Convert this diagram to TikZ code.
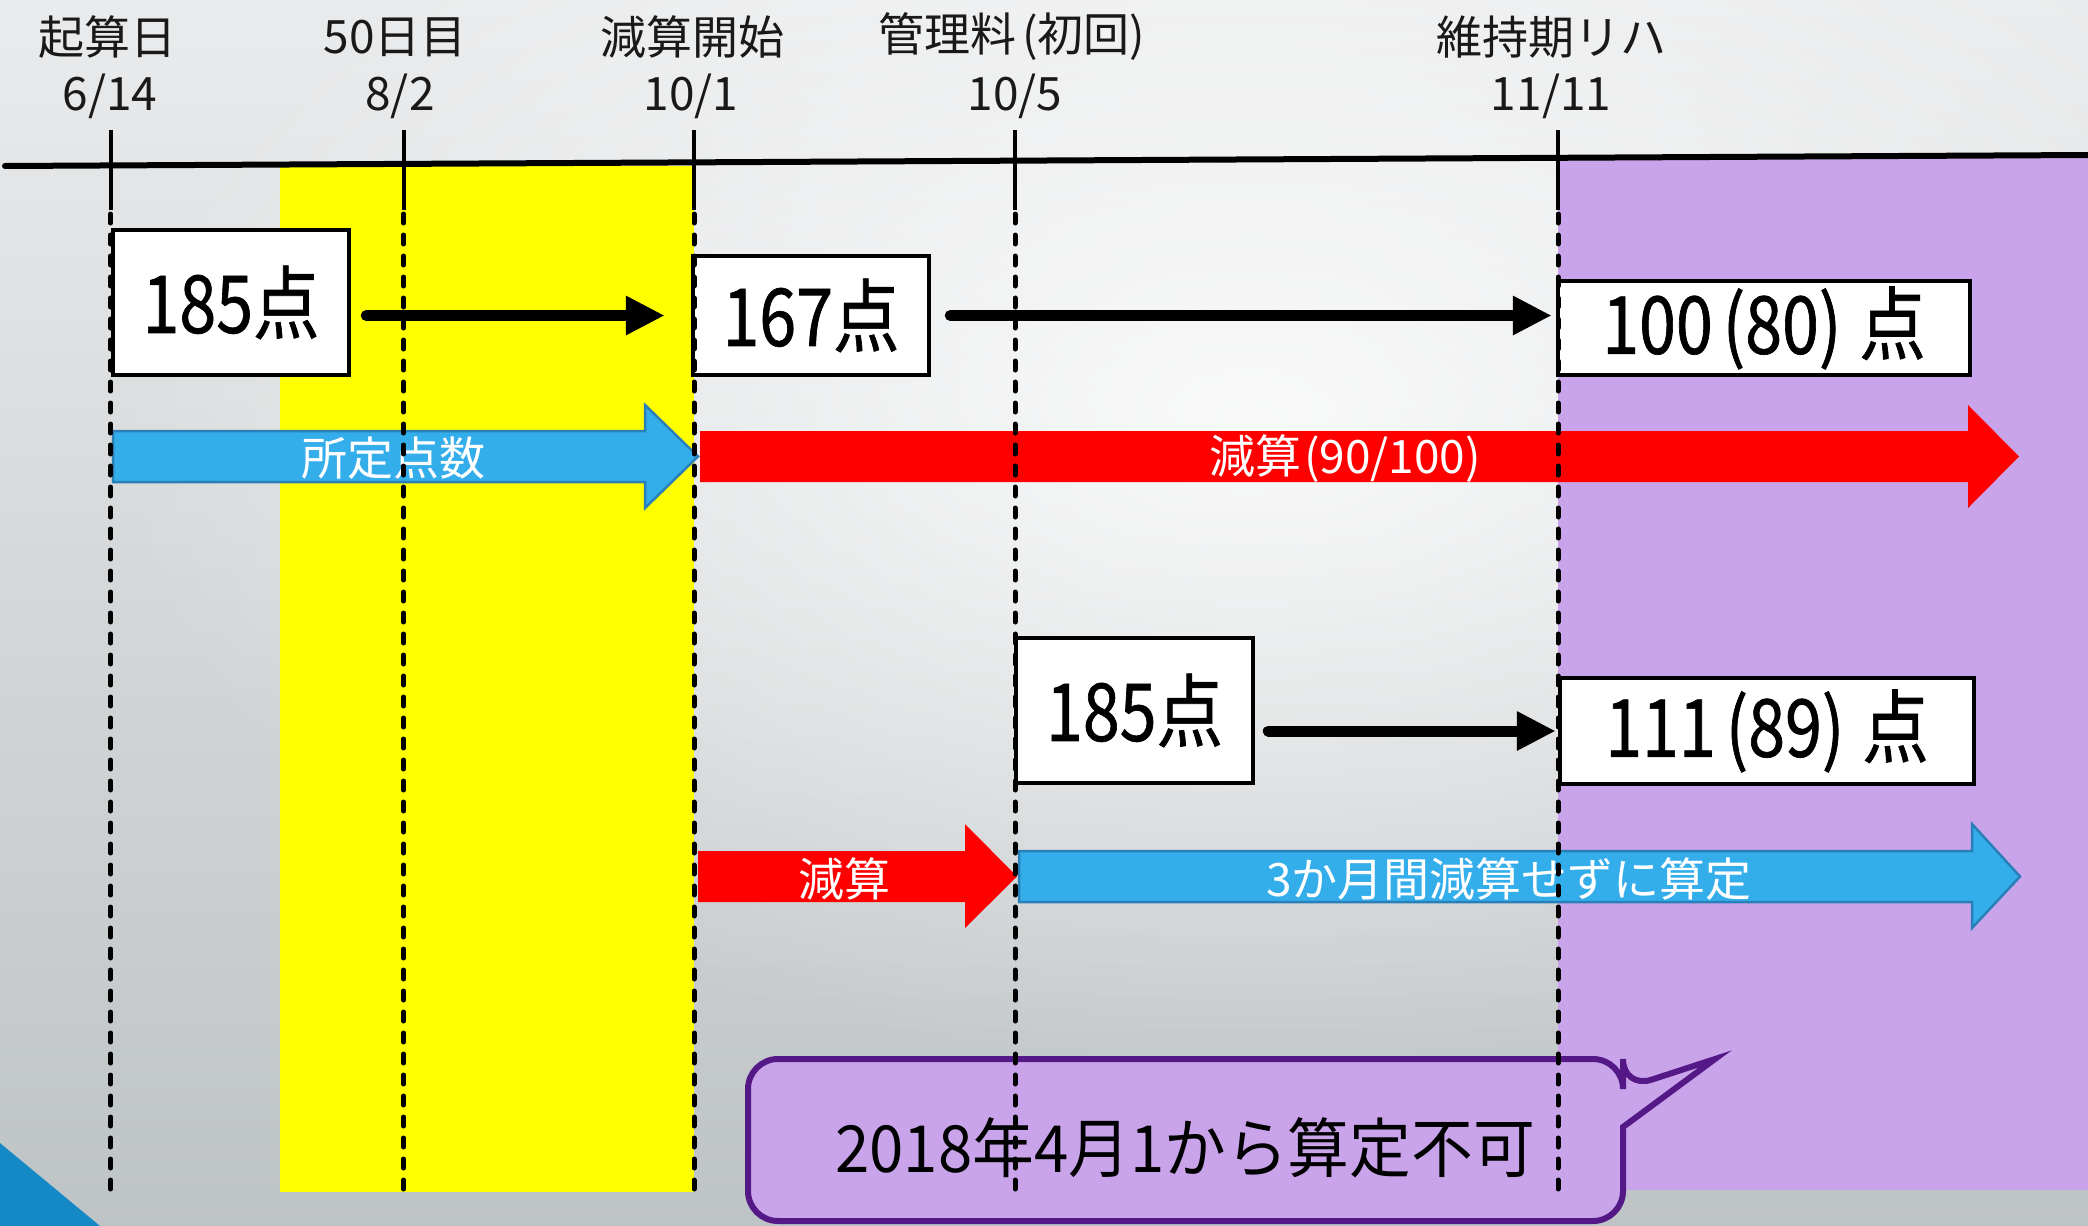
\documentclass[tikz,border=0pt]{standalone}
\usepackage{fontspec}
\setmainfont{Noto Sans CJK JP}
\newfontfamily\jpbox[FakeStretch=0.83,FakeBold=0.8]{Noto Sans CJK JP}
\newfontfamily\jpcall[FakeStretch=0.95]{Noto Sans CJK JP}
\usetikzlibrary{arrows.meta,fadings}
\tikzfading[name=softspot, inner color=transparent!0, outer color=transparent!100]
\definecolor{bgtop}{RGB}{234,235,236}
\definecolor{bgbot}{RGB}{190,195,197}
\definecolor{cornerblue}{RGB}{21,137,198}
\definecolor{lilac}{RGB}{202,164,235}
\definecolor{calloutedge}{RGB}{85,25,135}
\definecolor{arrowblue}{RGB}{52,173,235}
\definecolor{arrowblueedge}{RGB}{41,128,185}
\definecolor{hdrtext}{RGB}{25,25,25}
\definecolor{hiyellow}{RGB}{255,255,0}
\definecolor{barred}{RGB}{255,0,0}
\begin{document}
\begin{tikzpicture}[x=1pt,y=-1pt,
  hdr/.style={font=\fontsize{46}{50}\selectfont, text=hdrtext, inner sep=0pt},
  ptbox/.style={draw=black, fill=white, line width=4.5pt, font=\jpbox\fontsize{80}{90}\selectfont, inner sep=0pt},
  bartext/.style={text=white, font=\fontsize{46}{50}\selectfont, inner sep=0pt},
  blackarrow/.style={line width=11pt, line cap=round, -{Triangle[length=38pt,width=40pt,line width=0pt]}},
  bluebar/.style={fill=arrowblue, draw=arrowblueedge, line width=2.5pt, line join=miter},
  redbar/.style={fill=barred, draw=none},
  ticksolid/.style={line width=4pt},
  tickdash/.style={line width=5pt, line cap=round, dash pattern=on 9pt off 12pt},
]
\useasboundingbox (0,0) rectangle (2088,1226);
% background
\shade[top color=bgtop, bottom color=bgbot] (0,0) rectangle (2088,1226);
\fill[white, path fading=softspot, fill opacity=0.85] (1250,420) ellipse (1150 and 650);
\fill[cornerblue] (0,1143) -- (100,1226) -- (0,1226) -- cycle;
% coloured periods
\fill[hiyellow] (280,166) rectangle (694,1192);
\fill[lilac] (1558,157) rectangle (2088,1190);
% timeline
\draw[line width=6pt, line cap=round] (5,166) -- (2088,155);
% headers
\node[hdr] (h1) at (107,37) {起算日};
\node[hdr] (d1) at (110,96) {6/14};
\node[hdr] (h2) at (395,37) {50日目};
\node[hdr] (d2) at (400,96) {8/2};
\node[hdr] (h3) at (692,37) {減算開始};
\node[hdr] (d3) at (691,96) {10/1};
\node[hdr] (h4) at (1012,37) {管理料\hspace{6pt}(初回)};
\node[hdr] (d4) at (1015,96) {10/5};
\node[hdr] (h5) at (1551,37) {維持期リハ};
\node[hdr] (d5) at (1551,96) {11/11};
% block arrows
\draw[bluebar] (113,431) -- (645,431) -- (645,405) -- (698,456.5) -- (645,508) -- (645,482) -- (113,482) -- cycle;
\node[bartext] (t1) at (393,458) {所定点数};
\draw[redbar] (700,431) -- (1968,431) -- (1968,405) -- (2019,456.5) -- (1968,508) -- (1968,482) -- (700,482) -- cycle;
\node[bartext] (t2) at (1345,459) {減算\hspace{3pt}(90/100)};
\draw[redbar] (698,851) -- (965,851) -- (965,824) -- (1017,876.5) -- (965,928) -- (965,902) -- (698,902) -- cycle;
\node[bartext] (t3) at (844,879) {減算};
\draw[bluebar] (1019,851) -- (1972,851) -- (1972,824) -- (2020,876.5) -- (1972,928) -- (1972,902) -- (1019,902) -- cycle;
\node[bartext] (t4) at (1509,879) {3か月間減算せずに算定};
% point boxes
\node[ptbox, minimum width=236, minimum height=145] (b1) at (231,302.5) {185点};
\node[ptbox, minimum width=236, minimum height=119] (b2) at (811,315.5) {167点};
\node[ptbox, minimum width=412, minimum height=94] (b3) at (1764,328) {100\hspace{10pt}(80)\hspace{18pt}点};
\node[ptbox, minimum width=237, minimum height=145] (b4) at (1134.5,710.5) {185点};
\node[ptbox, minimum width=414, minimum height=106] (b5) at (1767,731) {111\hspace{10pt}(89)\hspace{18pt}点};
% black arrows
\draw[blackarrow, shorten <=15pt, shorten >=27pt] (b1.east |- b2.west) -- (b2.west);
\draw[blackarrow, shorten <=19pt, shorten >=5pt] (b2.east) -- (b3.west |- b2.east);
\draw[blackarrow, shorten <=13pt, shorten >=3pt] (b4.east |- b5.west) -- (b5.west);
% callout
\draw[fill=lilac, draw=calloutedge, line width=6pt, rounded corners=30pt]
  (748,1140) |- (1623,1059) -- (1623,1089) [sharp corners] -- (1715,1059) -- (1623,1127)
  [rounded corners=30pt] |- (748,1221) -- cycle;
\node[font=\jpcall\fontsize{65}{70}\selectfont, text=black, inner sep=0pt] (note) at (1185,1148) {2018年4月1から算定不可};
% date ticks
\foreach \x in {110.5,403.5,694,1015,1558}{
  \draw[ticksolid] (\x,130) -- (\x,210);
  \draw[tickdash] (\x,214) -- (\x,1190);
}
\end{tikzpicture}
\end{document}
